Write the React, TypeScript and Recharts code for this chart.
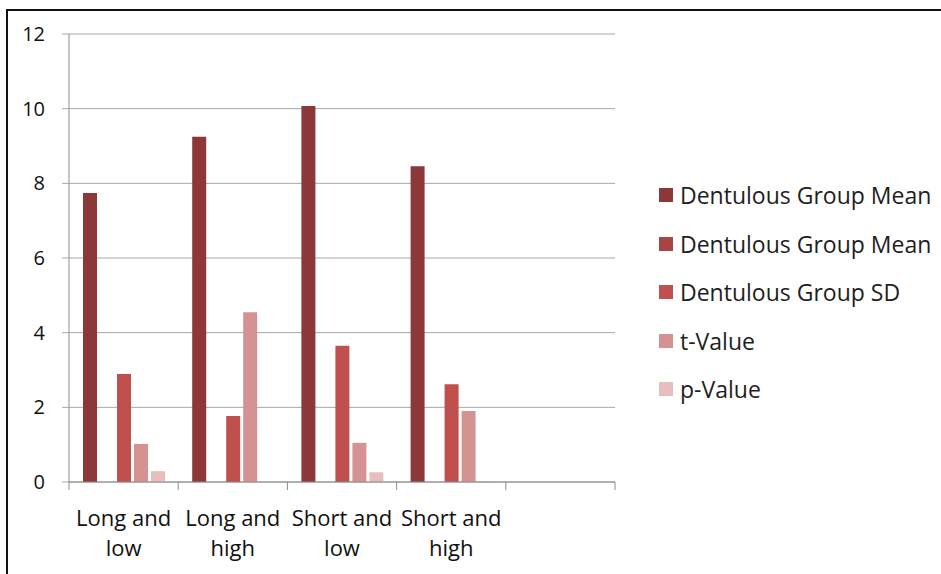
import React from 'react'
import { BarChart, Bar, XAxis, YAxis, CartesianGrid, Legend } from 'recharts'

// values (last slot is empty in the original)
const categories = ['Long and\nlow', 'Long and\nhigh', 'Short and\nlow', 'Short and\nhigh', '']
const groupMean = [7.74, 9.25, 10.07, 8.46, null]
const groupMean2 = [0, 0, 0, 0, null]
const groupSD = [2.89, 1.77, 3.65, 2.62, null]
const tValue = [1.02, 4.55, 1.05, 1.9, null]
const pValue = [0.29, 0, 0.26, 0.02, null]
const yTicks = [0, 2, 4, 6, 8, 10, 12]

const series = [
  { key: 'mean', name: 'Dentulous Group Mean', color: '#8C3838', values: groupMean },
  { key: 'mean2', name: 'Dentulous Group Mean', color: '#A84444', values: groupMean2 },
  { key: 'sd', name: 'Dentulous Group SD', color: '#C0504D', values: groupSD },
  { key: 't', name: 't-Value', color: '#D49292', values: tValue },
  { key: 'p', name: 'p-Value', color: '#E6BEBE', values: pValue },
]

const data = categories.map((name, i) => {
  const row: Record<string, any> = { name }
  series.forEach((s) => (row[s.key] = s.values[i]))
  return row
})

const FONT = '"Open Sans", sans-serif'
const W = 941
const H = 574
const margin = { top: 34, right: 326, bottom: 0, left: 0 }
const yAxisWidth = 69
const band = (W - margin.right - margin.left - yAxisWidth) / categories.length

function CategoryTick(props: any) {
  const { x, y, payload, index } = props
  const lines = String(payload.value).split('\n')
  const last = index === categories.length - 1
  return (
    <g>
      <line x1={x - band / 2} x2={x - band / 2} y1={y} y2={y + 8} stroke="#8c8c8c" />
      {last && <line x1={x + band / 2} x2={x + band / 2} y1={y} y2={y + 8} stroke="#8c8c8c" />}
      <text x={x} y={y} textAnchor="middle" fontFamily={FONT} fontSize={22} fill="#111">
        {lines.map((l, i) => (
          <tspan key={i} x={x} y={y + 44 + i * 30}>
            {l}
          </tspan>
        ))}
      </text>
    </g>
  )
}

function LegendList(props: any) {
  const payload = [...(props.payload || [])].sort(
    (a: any, b: any) =>
      series.findIndex((s) => s.key === a.dataKey) - series.findIndex((s) => s.key === b.dataKey)
  )
  return (
    <div style={{ fontFamily: FONT, fontSize: 23, color: '#1e1e1e' }}>
      {payload.map((p: any, i: number) => (
        <div key={i} style={{ display: 'flex', alignItems: 'center', height: 48.5, whiteSpace: 'nowrap' }}>
          <span style={{ width: 14, height: 14, background: p.color, marginRight: 7, flexShrink: 0 }} />
          <span>{p.value}</span>
        </div>
      ))}
    </div>
  )
}

export default function App() {
  return (
    <div style={{ position: 'absolute', left: 0, top: 0, width: W, height: H, overflow: 'hidden', background: '#fff' }}>
      <div
        style={{
          position: 'absolute',
          left: 6,
          top: 9,
          width: 960,
          height: 600,
          borderTop: '2px solid #111',
          borderLeft: '2px solid #111',
        }}
      />
      <BarChart width={W} height={H} data={data} margin={margin} barSize={14} barGap={3}>
        <CartesianGrid vertical={false} stroke="#a6a6a6" />
        <XAxis
          dataKey="name"
          interval={0}
          height={92}
          tickLine={false}
          tickSize={0}
          tickMargin={0}
          axisLine={{ stroke: '#8c8c8c' }}
          tick={<CategoryTick />}
        />
        <YAxis
          domain={[0, 12]}
          ticks={yTicks}
          width={yAxisWidth}
          tickSize={7}
          tickMargin={17}
          axisLine={{ stroke: '#8c8c8c' }}
          tickLine={{ stroke: '#a6a6a6' }}
          tick={{ fontFamily: FONT, fontSize: 20, fill: '#111' }}
        />
        <Legend
          layout="vertical"
          align="center"
          verticalAlign="middle"
          content={<LegendList />}
          wrapperStyle={{ left: 659, top: 171, width: 282 }}
        />
        {series.map((s) => (
          <Bar key={s.key} dataKey={s.key} name={s.name} fill={s.color} isAnimationActive={false} />
        ))}
      </BarChart>
    </div>
  )
}
